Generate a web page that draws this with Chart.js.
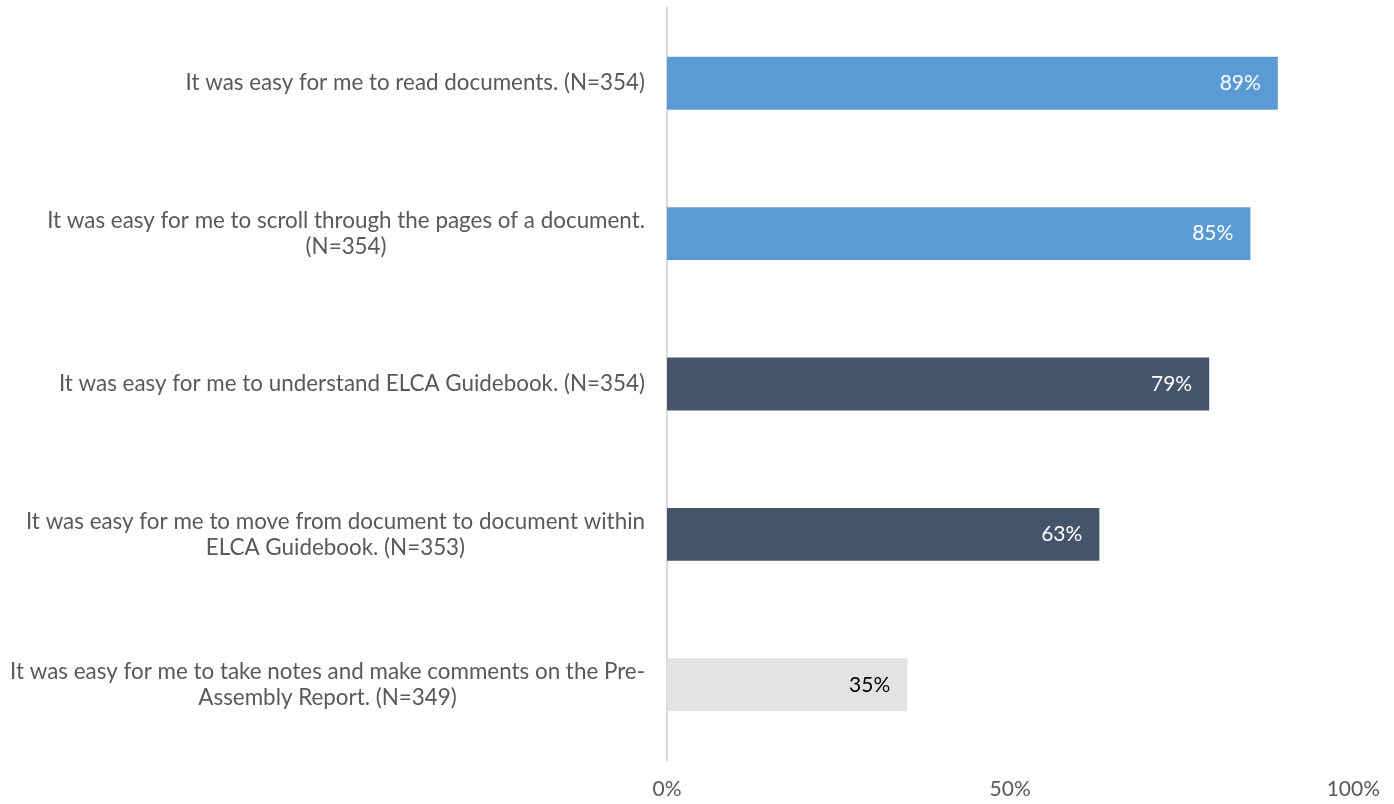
<!DOCTYPE html>
<html>
<head>
<meta charset="utf-8">
<script src="https://cdn.jsdelivr.net/npm/chart.js@4/dist/chart.umd.min.js"></script>
<style>
  html, body { margin: 0; padding: 0; background: #ffffff; }
  #wrap { width: 1394px; height: 804px; position: relative; }
</style>
</head>
<body>
<div id="wrap"><canvas id="c" width="1394" height="804"></canvas></div>
<script>
const categories = [
  ["It was easy for me to read documents. (N=354)"],
  ["It was easy for me to scroll through the pages of a document.", "(N=354)"],
  ["It was easy for me to understand ELCA Guidebook. (N=354)"],
  ["It was easy for me to move from document to document within", "ELCA Guidebook. (N=353)"],
  ["It was easy for me to take notes and make comments on the Pre-", "Assembly Report. (N=349)"]
];
const values = [89, 85, 79, 63, 35];
const barColors = ["#5B9BD5", "#5B9BD5", "#44546A", "#44546A", "#E3E3E3"];
const valueLabelColors = ["#FFFFFF", "#FFFFFF", "#FFFFFF", "#FFFFFF", "#000000"];
const tickValues = [0, 50, 100];

const FONT = "Lato, 'Open Sans', sans-serif";
const CAT_FONT_SIZE = 22.4;
const VAL_FONT_SIZE = 21;
const TICK_FONT_SIZE = 21;

const categoryLabelPlugin = {
  id: 'categoryLabels',
  afterDraw(chart) {
    const ctx = chart.ctx;
    const yScale = chart.scales.y;
    const right = chart.chartArea.left - 22;
    const lineH = 26;
    ctx.save();
    ctx.font = CAT_FONT_SIZE + "px " + FONT;
    ctx.fillStyle = "#595959";
    ctx.textBaseline = "middle";
    ctx.textAlign = "center";
    categories.forEach((lines, i) => {
      const yc = yScale.getPixelForValue(i);
      const w = Math.max(...lines.map(l => ctx.measureText(l).width));
      const xc = right - w / 2;
      const y0 = yc - (lines.length - 1) * lineH / 2;
      lines.forEach((l, k) => ctx.fillText(l, xc, y0 + k * lineH));
    });
    ctx.restore();
  }
};

const valueLabelPlugin = {
  id: 'valueLabels',
  afterDatasetsDraw(chart) {
    const ctx = chart.ctx;
    const meta = chart.getDatasetMeta(0);
    ctx.save();
    ctx.font = VAL_FONT_SIZE + "px " + FONT;
    ctx.textAlign = "right";
    ctx.textBaseline = "middle";
    meta.data.forEach((bar, i) => {
      ctx.fillStyle = valueLabelColors[i];
      ctx.fillText(values[i] + "%", bar.x - 17, bar.y);
    });
    ctx.restore();
  }
};

new Chart(document.getElementById('c'), {
  type: 'bar',
  data: {
    labels: categories,
    datasets: [{
      data: values,
      backgroundColor: barColors,
      borderWidth: 0,
      categoryPercentage: 1,
      barPercentage: 0.352
    }]
  },
  options: {
    indexAxis: 'y',
    responsive: false,
    animation: false,
    devicePixelRatio: 1,
    layout: { padding: { top: 8, right: 16, left: 0, bottom: 0 } },
    plugins: { legend: { display: false }, tooltip: { enabled: false } },
    scales: {
      x: {
        min: 0, max: 100,
        afterBuildTicks(scale) { scale.ticks = tickValues.map(v => ({ value: v })); },
        grid: { display: false, drawTicks: false },
        border: { display: false },
        ticks: {
          callback: v => v + '%',
          color: '#595959',
          font: { family: FONT, size: TICK_FONT_SIZE },
          padding: 17,
          maxRotation: 0
        },
        afterFit(scale) { scale.height = 44; scale.paddingRight = Math.max(0, scale.paddingRight - 3); }
      },
      y: {
        grid: { display: false, drawTicks: false },
        border: { display: true, color: '#D9D9D9', width: 2 },
        ticks: { display: false },
        afterFit(scale) { scale.width = 667; }
      }
    }
  },
  plugins: [categoryLabelPlugin, valueLabelPlugin]
});
</script>
</body>
</html>
